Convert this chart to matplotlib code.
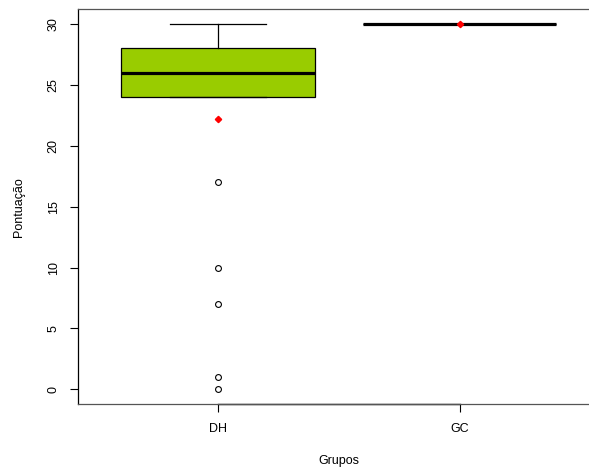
import matplotlib
matplotlib.use("Agg")
import matplotlib.pyplot as plt
from matplotlib.lines import Line2D

plt.rcParams['font.family'] = ['Liberation Sans', 'DejaVu Sans']

# Summary statistics per group
groups = ["DH", "GC"]
q1 = [24, 30]
medians = [26, 30]
q3 = [28, 30]
whisker_low = [24, 30]
whisker_high = [30, 30]
outliers = [[17, 10, 7, 1, 0], []]
means = [22.2, 30]

y_ticks = [0, 5, 10, 15, 20, 25, 30]

fig = plt.figure(figsize=(5.89, 4.69), dpi=100)
ax = fig.add_axes([0.1319, 0.1386, 1.0187 - 0.1319, 0.8416])

stats = []
for i, g in enumerate(groups):
    stats.append(dict(label=g, q1=q1[i], med=medians[i], q3=q3[i],
                      whislo=whisker_low[i], whishi=whisker_high[i],
                      fliers=outliers[i]))

positions = list(range(1, len(groups) + 1))
ax.bxp(stats, positions=positions, widths=0.8, patch_artist=True,
       showcaps=True,
       boxprops=dict(facecolor="#99CC00", edgecolor="black", linewidth=0.9),
       medianprops=dict(color="black", linewidth=2.3, solid_capstyle="butt"),
       whiskerprops=dict(color="black", linewidth=0.9),
       capprops=dict(color="black", linewidth=0.9),
       capwidths=0.4,
       flierprops=dict(marker="o", markerfacecolor="none",
                       markeredgecolor="black", markersize=4.2,
                       markeredgewidth=0.8, linestyle="none"))

# Group means
ax.plot(positions, means, linestyle="none", marker="D", color="red",
        markersize=3.2, zorder=5)

ax.set_xlim(0.42, 2.58)
ax.set_ylim(-1.2, 31.2)

ax.set_xticks(positions)
ax.set_xticklabels(groups, fontsize=9)
ax.set_yticks(y_ticks)
ax.set_yticklabels([str(v) for v in y_ticks], fontsize=9, rotation=90,
                   va="center")
ax.tick_params(axis="both", direction="out", length=6, width=0.8,
               color="black")
ax.tick_params(axis="x", pad=8)
ax.tick_params(axis="y", pad=7)

for side in ["top", "bottom", "left"]:
    ax.spines[side].set_color("#555555")
    ax.spines[side].set_linewidth(0.9)
ax.spines["left"].set_color("black")
ax.spines["right"].set_visible(False)

# Axis line spanning the tick range
ax.add_line(Line2D([1, 2], [-1.2, -1.2], color="black", linewidth=1.0,
                   clip_on=False))

ax.set_xlabel("Grupos", fontsize=9, labelpad=14)
ax.set_ylabel("Pontuação", fontsize=9, labelpad=16.5)

fig.savefig("out.png", dpi=100)
